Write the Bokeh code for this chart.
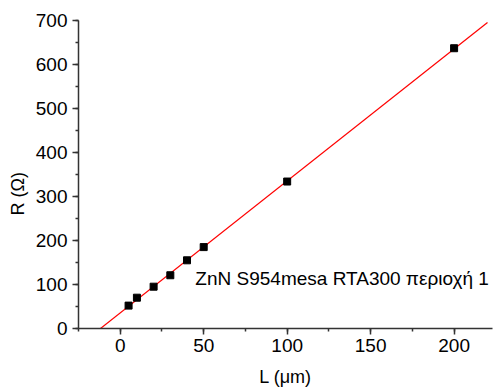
import numpy as np
from bokeh.plotting import figure
from bokeh.models import Range1d, Label, SingleIntervalTicker, Title
from bokeh.embed import file_html
from bokeh.resources import INLINE

# Data
L_um = [5, 10, 20, 30, 40, 50, 100, 200]
R_ohm = [52, 70, 95, 121, 155, 185, 334, 637]
fit_L = [-25, 220]
note = "ZnN S954mesa RTA300 περιοχή 1"

slope, intercept = np.polyfit(L_um, R_ohm, 1)
fit_R = [slope * v + intercept for v in fit_L]

FONT = "Liberation Sans"

p = figure(width=493, height=392, output_backend="svg", toolbar_location=None,
           x_range=Range1d(-25, 223), y_range=Range1d(0, 700),
           min_border_left=78, min_border_right=1, min_border_top=20, min_border_bottom=64)
p.outline_line_color = None
p.xgrid.visible = False
p.ygrid.visible = False

p.line(fit_L, fit_R, line_color="red", line_width=1.2)
p.scatter(L_um, R_ohm, marker="square", size=7, fill_color="black", line_color="black")

p.add_layout(Label(x=45, y=114, text=note, text_font=FONT, text_font_size="19px",
                   text_baseline="middle", text_color="black"))

for ax in (p.xaxis[0], p.yaxis[0]):
    ax.axis_line_color = "#333333"
    ax.axis_line_width = 1.5
    ax.major_tick_line_color = "#333333"
    ax.minor_tick_line_color = "#333333"
    ax.major_tick_line_width = 1.5
    ax.minor_tick_line_width = 1.5
    ax.major_tick_out = 6
    ax.major_tick_in = 0
    ax.minor_tick_out = 3
    ax.minor_tick_in = 0
    ax.major_label_text_font = FONT
    ax.major_label_text_font_size = "19px"
    ax.major_label_text_color = "black"
    ax.axis_label_text_font = FONT
    ax.axis_label_text_font_size = "18px"
    ax.axis_label_text_font_style = "normal"
    ax.axis_label_text_color = "black"

p.xaxis[0].ticker = SingleIntervalTicker(interval=50, num_minor_ticks=2)
p.yaxis[0].ticker = SingleIntervalTicker(interval=100, num_minor_ticks=2)
p.xaxis[0].major_label_standoff = 4
p.yaxis[0].major_label_standoff = 5
p.xaxis[0].axis_label = "L (μm)"
p.xaxis[0].axis_label_standoff = 12

# y-axis title, placed below the frame centre as in the reference
p.add_layout(Title(text="R (Ω)", align="left", offset=113, text_font=FONT,
                   text_font_size="18px", text_font_style="normal",
                   text_color="black"), "left")

open("out.html", "w").write(file_html(p, INLINE))
